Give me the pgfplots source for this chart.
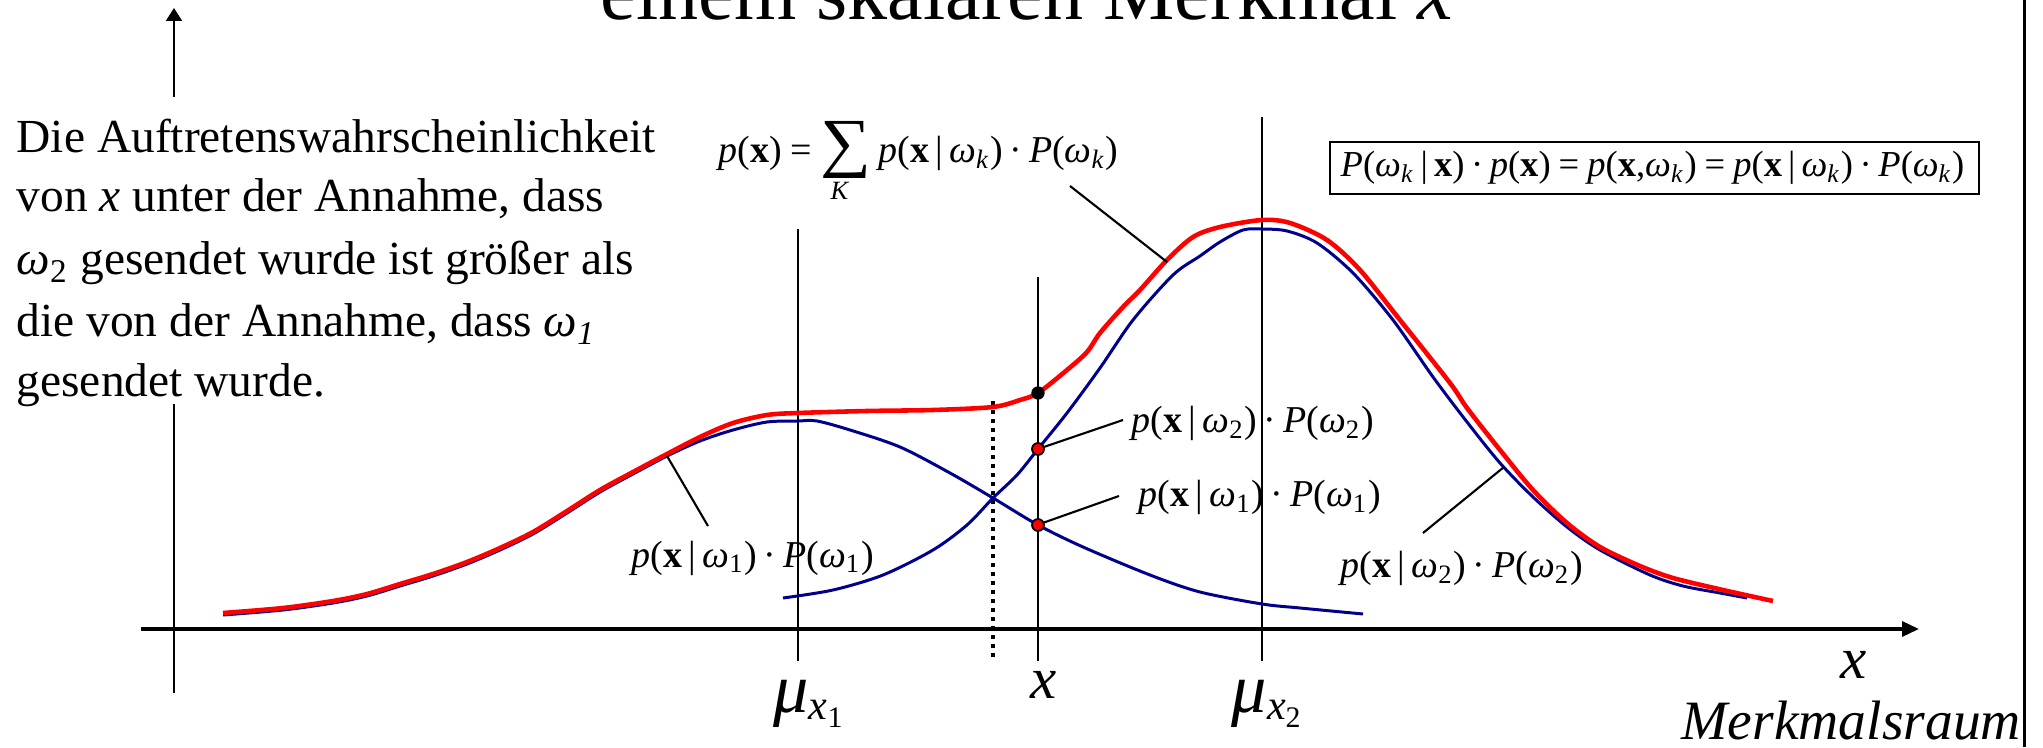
\documentclass[border=0pt]{standalone}
\usepackage{graphicx}
\usepackage{pgfplots}
\pgfplotsset{compat=1.18}
\usepackage{pgfplotstable}
\usetikzlibrary{arrows.meta}
\usepackage{fontspec}
\setmainfont{Liberation Serif}

\definecolor{sumred}{RGB}{255,0,0}
\definecolor{classblue}{RGB}{0,0,140}

% formula pieces set in the text font
\newcommand{\om}[1]{\textit{ω}\textsubscript{#1}}
\newcommand{\pxo}[1]{\textit{p}(\textbf{x}\,|\,\om{#1})}
\newcommand{\Po}[1]{\textit{P}(\om{#1})}
\newcommand{\md}{\hspace{0.18em}·\hspace{0.18em}}
\newcommand{\eq}{\hspace{0.22em}=\hspace{0.22em}}
\newcommand{\sumK}{\mbox{\rlap{\raisebox{-10.5pt}{\hspace{3pt}\fontsize{7.5}{7.5}\selectfont\textit{K}}}\raisebox{-0.5pt}{\fontsize{16}{16}\selectfont\scalebox{1.27}[1.17]{∑}}}}
\newcommand{\mux}[1]{\textit{μ}\raisebox{-2pt}{\fontsize{12}{12}\selectfont\textit{x}\raisebox{-2.3pt}{\fontsize{8.5}{8.5}\selectfont #1}}}

% class-conditional densities weighted with the priors, and their sum
\pgfplotstableread{
X Y
223 14
283 19
333 26
367 33
400 43
433 53
467 65
500 79
533 95
567 116
600 137
633 155
667 173
700 188
733 199
767 207
798 208
817 208
850 199
900 182
950 156
993 131
1038 104
1083 82
1150 54
1200 37
1262 25
1300 21
1363 15
}\classone

\pgfplotstableread{
X Y
783 31
833 39
883 54
933 79
967 104
993 131
1017 154
1038 180
1067 216
1100 261
1133 309
1173 354
1200 373
1220 387
1243 399
1262 400
1287 398
1317 386
1353 356
1393 309
1433 252
1467 207
1500 166
1533 132
1567 102
1600 79
1650 54
1683 43
1720 36
1747 31
}\classtwo

\pgfplotstableread{
X Y
223 16
283 21
333 28
367 35
400 45
433 55
467 67
500 81
533 97
567 118
600 139
633 157
667 175
700 192
733 206
767 214
798 216
867 218
933 219
993 222
1020 229
1038 236
1067 259
1087 277
1100 296
1123 322
1140 339
1167 369
1193 392
1220 402
1262 409
1290 406
1327 389
1360 359
1400 309
1450 246
1467 221
1500 179
1533 139
1567 106
1600 82
1640 63
1673 51
1723 39
1773 28
}\mixture

\begin{document}
\begin{tikzpicture}
\begin{axis}[
  at={(0,0)}, anchor=south west,
  scale only axis, width=204.3mm, height=74.7mm,
  xmin=0, xmax=2043, ymin=-118, ymax=629,
  hide axis, clip=true,
]
% feature axis and ordinate
\draw[line width=1pt, -{Triangle[length=1.7mm,width=1.5mm]}] (141,0) -- (1919,0);
\draw[line width=0.6pt] (174,-64) -- (174,225);
\draw[line width=0.6pt, -{Triangle[length=1.3mm,width=1.6mm]}] (174,532) -- (174,621);

% class means, decision boundary and observed value
\draw[line width=0.6pt] (798,-32) -- (798,400);
\draw[line width=0.6pt] (1262,-32) -- (1262,512);
\draw[line width=0.6pt] (1038,-32) -- (1038,352);
\draw[line width=1.1pt, dash pattern=on 0.45mm off 0.45mm] (993,-28) -- (993,232);
\draw[line width=0.85pt] (2024,-118) -- (2024,629);

\addplot[classblue, line width=0.85pt, smooth] table[x=X,y=Y] {\classone};
\addplot[classblue, line width=0.85pt, smooth] table[x=X,y=Y] {\classtwo};
\addplot[sumred, line width=1.3pt, smooth] table[x=X,y=Y] {\mixture};

% leader lines
\draw[line width=0.6pt] (1070,443) -- (1167,367);
\draw[line width=0.6pt] (1038,180) -- (1123,209);
\draw[line width=0.6pt] (1037,104) -- (1119,133);
\draw[line width=0.6pt] (667,173) -- (708,103);
\draw[line width=0.6pt] (1504,162) -- (1423,96);

% values at the observed x
\addplot[only marks, mark=*, mark size=1.7pt, black] coordinates {(1038,236)};
\addplot[only marks, mark=*, mark size=1.7pt, draw=black, fill=sumred, mark options={line width=0.5pt}] coordinates {(1038,180) (1038,104)};

% title line
\node[anchor=base west, inner sep=0, font=\fontsize{22.8}{26}\selectfont] at (600,609) {einem skalaren Merkmal \textit{x}};

% explanatory text
\begin{scope}[every node/.style={anchor=base west, inner sep=0, font=\fontsize{13.5}{16}\selectfont}]
\node at (16,476) {Die Auftretenswahrscheinlichkeit};
\node at (16,417) {von \textit{x} unter der Annahme, dass};
\node at (16,354) {\om{2} gesendet wurde ist größer als};
\node at (16,292) {die von der Annahme, dass \om{\textit{1}}};
\node at (16,232) {gesendet wurde.};
\end{scope}

% formulas
\begin{scope}[every node/.style={anchor=base west, inner sep=0, font=\fontsize{10.8}{13}\selectfont}]
\node at (718,466) {\textit{p}(\textbf{x})\eq\sumK\hspace{0.2em}\pxo{\textit{k}}\md\Po{\textit{k}}};
\node[font=\fontsize{10.4}{13}\selectfont] at (1340,452) {\textit{P}(\om{\textit{k}}\,|\,\textbf{x})\md\textit{p}(\textbf{x})\eq\textit{p}(\textbf{x},\om{\textit{k}})\eq\pxo{\textit{k}}\md\Po{\textit{k}}};
\node at (1131,196) {\pxo{2}\md\Po{2}};
\node at (1138,122) {\pxo{1}\md\Po{1}};
\node at (631,62) {\pxo{1}\md\Po{1}};
\node at (1340,51) {\pxo{2}\md\Po{2}};
\end{scope}
\draw[line width=0.6pt] (1330,435) rectangle (1979,487);

% axis labels
\begin{scope}[every node/.style={anchor=base west, inner sep=0, font=\fontsize{20}{24}\selectfont}]
\node at (773,-83) {\mux{1}};
\node at (1231,-83) {\mux{2}};
\end{scope}
\begin{scope}[every node/.style={anchor=base west, inner sep=0, font=\fontsize{16.8}{20}\selectfont}]
\node at (1030,-69) {\textit{x}};
\node at (1840,-49) {\textit{x}};
\end{scope}
\node[anchor=base west, inner sep=0, font=\fontsize{15.8}{19}\selectfont] at (1681,-110) {\textit{Merkmalsraum}};
\end{axis}
\pgfresetboundingbox
\useasboundingbox (0,0) rectangle (204.3mm,74.7mm);
\end{tikzpicture}
\end{document}
